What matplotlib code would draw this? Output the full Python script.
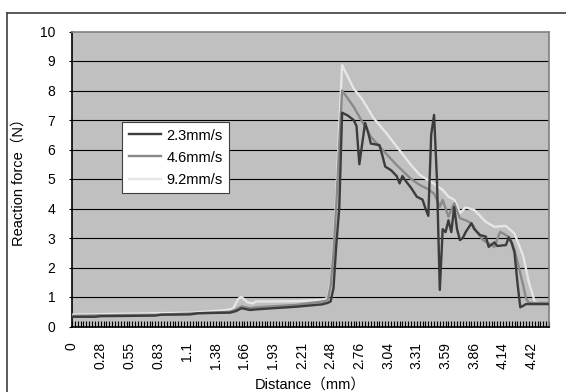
import numpy as np
import matplotlib.pyplot as plt
from matplotlib.lines import Line2D

plt.rcParams['font.family'] = ['Liberation Sans', 'Noto Sans CJK JP']

# distance labels shown on the category axis (every 10th sample)
tick_labels = ['0', '0.28', '0.55', '0.83', '1.1', '1.38', '1.66', '1.93', '2.21',
               '2.48', '2.76', '3.04', '3.31', '3.59', '3.86', '4.14', '4.42']
n_samples = 167

# 2.3mm/s  (sample index, force N)
idx_23 = [0, 8, 10, 20, 29, 31, 41, 44, 55, 57, 59, 62, 64, 70, 78, 87, 89, 90, 91, 92, 93, 94,
          96, 98, 99, 100, 102, 103, 104, 107, 108, 109, 111, 113, 114, 115, 116, 118, 120, 122,
          123, 124, 125, 126, 127, 128, 129, 130, 131, 132, 133, 134, 135, 136, 137, 139, 140,
          142, 144, 145, 147, 148, 151, 152, 153, 154, 155, 156, 157, 158, 166]
f_23 = [0.33, 0.33, 0.35, 0.36, 0.37, 0.40, 0.41, 0.45, 0.47, 0.52, 0.62, 0.56, 0.58, 0.62, 0.67, 0.75, 0.80, 0.85, 1.3, 2.8, 4.0, 7.25,
        7.15, 7.0, 6.8, 5.5, 6.9, 6.6, 6.2, 6.15, 5.8, 5.42, 5.3, 5.1, 4.85, 5.1, 4.95, 4.7, 4.4, 4.3,
        4.0, 3.75, 6.5, 7.17, 5.0, 1.24, 3.3, 3.2, 3.6, 3.2, 4.05, 3.3, 2.93, 3.0, 3.2, 3.5, 3.3,
        3.1, 3.05, 2.7, 2.85, 2.73, 2.76, 3.02, 2.85, 2.5, 1.5, 0.65, 0.7, 0.76, 0.76]

# 4.6mm/s
idx_46 = [0, 10, 30, 44, 55, 57, 59, 62, 64, 78, 88, 89, 90, 91, 92, 93, 94,
          98, 104, 107, 113, 118, 121, 124, 126, 127, 128, 129, 131, 133, 135, 137, 139,
          141, 143, 147, 149, 152, 154, 155, 157, 158, 159, 166]
f_46 = [0.36, 0.38, 0.40, 0.45, 0.50, 0.58, 0.68, 0.62, 0.65, 0.73, 0.86, 0.9, 1.4, 2.5, 4.2, 6.2, 8.0,
        7.45, 6.43, 6.1, 5.47, 5.0, 4.8, 4.65, 4.5, 4.3, 4.06, 4.29, 3.72, 4.18, 3.67, 3.6, 3.5,
        3.2, 2.93, 2.7, 3.21, 3.04, 2.6, 2.2, 1.4, 0.95, 0.8, 0.8]

# 9.2mm/s
idx_92 = [0, 10, 29, 42, 53, 56, 58, 59, 61, 63, 64, 70, 78, 87, 89, 90, 91, 92, 93, 94,
          98, 101, 105, 109, 113, 118, 121, 125, 129, 131, 133, 134, 135, 137, 140, 144, 147,
          151, 154, 157, 159, 161, 163, 166]
f_92 = [0.40, 0.42, 0.45, 0.47, 0.55, 0.60, 0.95, 1.0, 0.82, 0.78, 0.85, 0.85, 0.86, 0.9, 0.97, 1.5, 2.6, 4.5, 6.8, 8.86,
        8.07, 7.7, 7.06, 6.6, 6.1, 5.47, 5.14, 4.9, 4.63, 4.4, 4.3, 4.1, 3.84, 4.04, 3.95, 3.55, 3.38,
        3.41, 3.15, 2.4, 1.5, 0.85, 0.78, 0.78]

W, H = 566, 392
fig = plt.figure(figsize=(W / 100, H / 100), dpi=100)
ax = fig.add_axes([72 / W, 1 - 326.5 / H, 477 / W, 295 / H])
ax.set_facecolor('#c0c0c0')

# chart area border (only left/top visible in the picture)
fig.add_artist(Line2D([7 / W, 7 / W], [0, 1 - 13 / H], transform=fig.transFigure, color='#404040', lw=1.2))
fig.add_artist(Line2D([7 / W, 1], [1 - 13 / H, 1 - 13 / H], transform=fig.transFigure, color='#404040', lw=1.2))

ax.plot(idx_23, f_23, color='#3c3c3c', lw=1.7, label='2.3mm/s', zorder=5)
ax.plot(idx_46, f_46, color='#8a8a8a', lw=1.7, label='4.6mm/s', zorder=4)
ax.plot(idx_92, f_92, color='#e6e6e6', lw=1.7, label='9.2mm/s', zorder=3)

ax.set_xlim(0, n_samples - 1)
ax.set_ylim(0, 10)
ax.set_yticks(range(0, 11))
for v in range(1, 10):
    ax.axhline(v, color='black', lw=0.8, zorder=1)

ax.set_xticks(range(0, 161, 10))
ax.set_xticklabels(tick_labels, rotation=90)
ax.set_xticks(range(0, n_samples), minor=True)
ax.tick_params(axis='x', which='both', direction='in', length=4.5, width=0.8, pad=11, labelsize=10)
ax.tick_params(axis='y', which='major', direction='out', length=2, width=0.8, pad=10, labelsize=10)

for s in ['left', 'bottom']:
    ax.spines[s].set_color('black')
    ax.spines[s].set_linewidth(1.2)
for s in ['top', 'right']:
    ax.spines[s].set_color('#808080')
    ax.spines[s].set_linewidth(1.2)

ax.set_ylabel('Reaction force（N）', fontsize=10.5, labelpad=10)
ax.set_xlabel('Distance（mm）', fontsize=10.5, labelpad=6)

leg = ax.legend(loc='upper left', bbox_to_anchor=(122 / W, 1 - 122 / H), bbox_transform=fig.transFigure,
                borderaxespad=0, fontsize=10.5, handlelength=2.2, handletextpad=0.4,
                labelspacing=0.55, borderpad=0.45, fancybox=False, framealpha=1, edgecolor='#404040')
leg.get_frame().set_linewidth(0.8)

fig.savefig('out.png', dpi=100)
